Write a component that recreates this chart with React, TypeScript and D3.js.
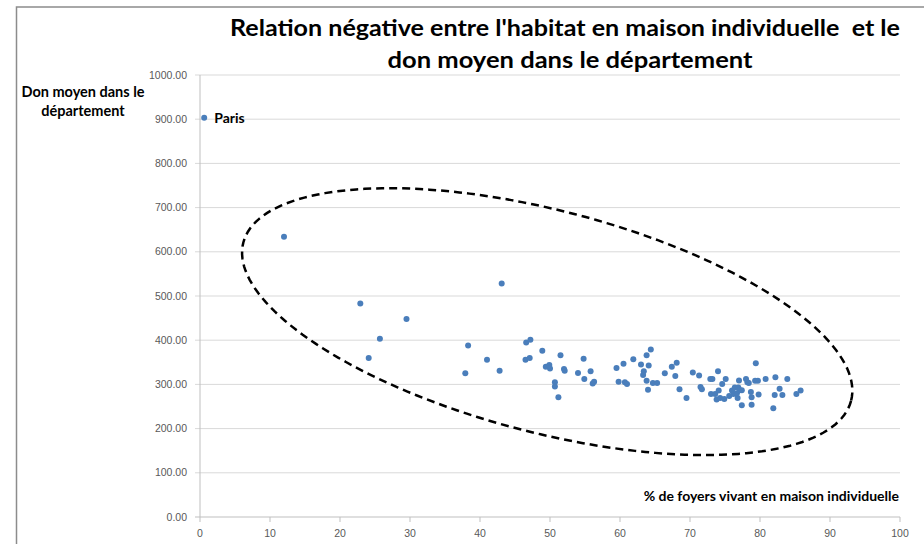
import React from "react";
import * as d3 from "d3";

const title1 = "Relation négative entre l'habitat en maison individuelle  et le";
const title2 = "don moyen dans le département";
const yTitle = ["Don moyen dans le", "département"];
const xTitle = "% de foyers vivant en maison individuelle";

const xTicks = [0, 10, 20, 30, 40, 50, 60, 70, 80, 90, 100];
const yTicks = [0, 100, 200, 300, 400, 500, 600, 700, 800, 900, 1000];

const pctMaison = [
  0.6, 12.0, 22.9, 24.1, 25.7, 29.5, 37.9, 38.3, 41.0, 42.8, 43.1, 46.5, 46.6, 47.1, 47.2,
  48.9, 51.5, 49.4, 49.9, 50.0, 50.7, 50.7, 51.2, 52.0, 52.1, 54.0, 54.8, 54.9, 55.8, 56.1,
  56.3, 59.5, 59.8, 60.5, 60.7, 61.0, 61.9, 63.0, 63.4, 63.3, 63.8, 64.4, 64.1, 63.8, 64.0,
  64.7, 65.3, 66.4, 67.4, 68.1, 67.9, 68.5, 69.5, 70.4, 71.3, 71.5, 71.7, 72.9, 73.2, 74.0,
  74.6, 75.1, 73.0, 73.6, 73.8, 74.1, 74.3, 74.9, 75.6, 76.0, 76.2, 76.4, 76.7, 76.8, 76.9,
  77.1, 77.0, 77.4, 77.4, 78.0, 78.2, 78.4, 79.4, 79.3, 79.7, 78.7, 78.8, 78.8, 79.8, 80.8,
  82.2, 82.8, 82.1, 83.2, 81.9, 83.9, 85.2, 85.8,
];
const donMoyen = [
  903, 634, 483, 360, 403, 448, 325, 388, 356, 331, 528, 356, 395, 360, 401,
  376, 366, 340, 344, 336, 305, 295, 271, 335, 331, 326, 358, 312, 330, 302,
  306, 337, 306, 347, 305, 301, 357, 345, 330, 321, 366, 379, 343, 308, 288,
  303, 303, 325, 340, 349, 319, 289, 269, 327, 320, 294, 289, 312, 312, 330,
  301, 312, 278, 278, 266, 286, 269, 267, 274, 286, 278, 293, 280, 269, 293,
  287, 309, 253, 287, 312, 305, 303, 348, 308, 308, 283, 271, 254, 277, 312,
  316, 290, 276, 276, 246, 312, 278, 286,
];

// annotation: ellipse centre in data units, radii in px
const ellipseCenter = { x: 49.6, y: 442 };
const ellipseRadii = { rx: 314, ry: 111, angle: 14.6 };

const W = 924;
const H = 544;
const FONT = "Lato, 'Open Sans', sans-serif";

export default function App() {
  const x = d3.scaleLinear().domain([0, 100]).range([200, 900]);
  const y = d3.scaleLinear().domain([0, 1000]).range([517, 75]);

  const cx = x(ellipseCenter.x);
  const cy = y(ellipseCenter.y);
  const th = (ellipseRadii.angle * Math.PI) / 180;
  const angles = d3.range(0, 361, 2).map((a) => (a * Math.PI) / 180);
  const ellipsePath = d3
    .line<number>()
    .x((t) => cx + ellipseRadii.rx * Math.cos(t) * Math.cos(th) - ellipseRadii.ry * Math.sin(t) * Math.sin(th))
    .y((t) => cy + ellipseRadii.rx * Math.cos(t) * Math.sin(th) + ellipseRadii.ry * Math.sin(t) * Math.cos(th))
    .curve(d3.curveLinearClosed)(angles);

  const pts = pctMaison.map((v, i) => ({ x: v, y: donMoyen[i] }));

  return (
    <svg
      width={W}
      height={H}
      style={{ position: "absolute", left: 0, top: 0, background: "#fff" }}
      fontFamily={FONT}
    >
      <rect x={0} y={0} width={W} height={H} fill="#fff" />
      {/* frame */}
      <path d={`M16.5,${H} V7 H${W}`} fill="none" stroke="#8c8c8c" strokeWidth={1.5} />

      {/* gridlines */}
      {yTicks.map((t) =>
        t === 0 ? null : (
          <line key={"g" + t} x1={195} x2={x(100)} y1={y(t)} y2={y(t)} stroke="#d9d9d9" strokeWidth={1} />
        )
      )}
      {/* y axis */}
      <line x1={x(0)} x2={x(0)} y1={y(1000)} y2={y(0)} stroke="#bfbfbf" strokeWidth={1} />
      {yTicks.map((t) => (
        <text key={"yl" + t} x={187} y={y(t) + 3.5} textAnchor="end" fontSize={10.5} fill="#595959" fontFamily="'Liberation Sans', sans-serif">
          {d3.format(".2f")(t)}
        </text>
      ))}
      {/* x axis */}
      <line x1={195} x2={x(100)} y1={y(0)} y2={y(0)} stroke="#bfbfbf" strokeWidth={1} />
      {xTicks.map((t) => (
        <g key={"xt" + t}>
          <line x1={x(t)} x2={x(t)} y1={y(0)} y2={y(0) + 5} stroke="#bfbfbf" strokeWidth={1} />
          <text x={x(t)} y={537} textAnchor="middle" fontSize={10.5} fill="#595959" fontFamily="'Liberation Sans', sans-serif">
            {t}
          </text>
        </g>
      ))}

      {/* ellipse annotation */}
      <path d={ellipsePath || ""} fill="none" stroke="#000" strokeWidth={2.5} strokeDasharray="8 5" />

      {/* points */}
      {pts.map((p, i) => (
        <circle key={i} cx={x(p.x)} cy={y(p.y)} r={3} fill="#4a7ebb" />
      ))}

      <text x={x(pctMaison[0]) + 10} y={y(donMoyen[0]) + 5} fontSize={14} fontWeight="bold" fill="#000">
        Paris
      </text>

      {/* titles */}
      <text x={565} y={36} textAnchor="middle" fontSize={23} fontWeight="bold" fill="#000" textLength={670} lengthAdjust="spacingAndGlyphs" style={{ whiteSpace: "pre" }}>
        {title1}
      </text>
      <text x={570} y={68} textAnchor="middle" fontSize={23} fontWeight="bold" fill="#000" textLength={365} lengthAdjust="spacingAndGlyphs">
        {title2}
      </text>

      <text x={83} y={97} textAnchor="middle" fontSize={14.5} fontWeight="bold" fill="#000">
        {yTitle[0]}
      </text>
      <text x={83} y={116} textAnchor="middle" fontSize={14.5} fontWeight="bold" fill="#000">
        {yTitle[1]}
      </text>

      <text x={899} y={501} textAnchor="end" fontSize={14} fontWeight="bold" fill="#000">
        {xTitle}
      </text>
    </svg>
  );
}
